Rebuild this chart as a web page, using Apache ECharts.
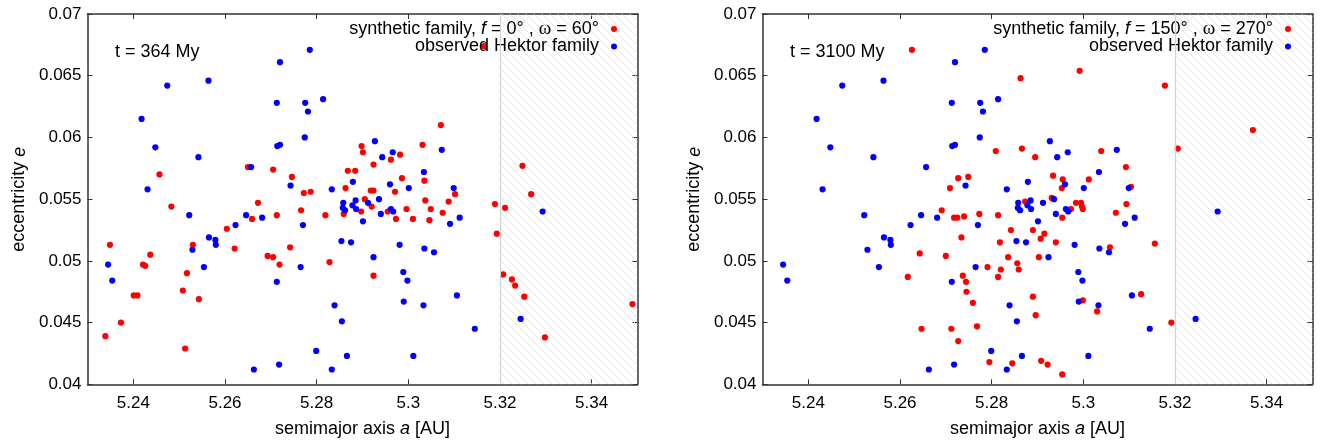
<!DOCTYPE html>
<html>
<head>
<meta charset="utf-8">
<script src="https://cdn.jsdelivr.net/npm/echarts@6/dist/echarts.min.js"></script>
<style>html,body{margin:0;padding:0;background:#fff}#c{width:1320px;height:445px}</style>
</head>
<body>
<div id="c"></div>
<script>
// ---- data ----
const xTicks = [5.24, 5.26, 5.28, 5.30, 5.32, 5.34];
const yTicks = [0.04, 0.045, 0.05, 0.055, 0.06, 0.065, 0.07];
const panelTimes = ['t = 364 My', 't = 3100 My'];
const panelF = ['0°', '150°'];
const panelOmega = ['60°', '270°'];
const observedName = 'observed Hektor family';

const observedA = [5.2785,5.2720,5.2564,5.2474,5.2814,5.2713,5.2775,5.2781,5.2418,5.2774,5.2714,5.2720,5.2927,5.3073,5.2448,5.2966,5.2943,5.2542,5.2657,5.3034,5.2879,5.2743,5.2960,5.2431,5.2833,5.3001,5.3099,5.2936,5.2858,5.2885,5.2912,5.2857,5.2862,5.2878,5.2886,5.2962,5.2967,5.2940,5.3293,5.2522,5.2646,5.2681,5.3112,5.2901,5.2770,5.2623,5.3091,5.2565,5.2579,5.2580,5.2854,5.2875,5.2981,5.3035,5.2529,5.3056,5.2924,5.2345,5.2554,5.2765,5.2989,5.2354,5.2713,5.2998,5.3106,5.2990,5.2839,5.3033,5.3245,5.2855,5.3145,5.2799,5.2866,5.3011,5.2718,5.2663,5.2833];
const observedE = [0.0671,0.0661,0.0646,0.0642,0.0631,0.0628,0.0628,0.0621,0.0615,0.0600,0.0593,0.0594,0.0597,0.0590,0.0592,0.0588,0.0584,0.0584,0.0576,0.0572,0.0564,0.0561,0.0562,0.0558,0.0558,0.0559,0.0559,0.0550,0.0547,0.0549,0.0547,0.0543,0.0541,0.0545,0.0542,0.0542,0.0540,0.0538,0.0540,0.0537,0.0537,0.0535,0.0535,0.0532,0.0529,0.0529,0.0530,0.0519,0.0517,0.0513,0.0516,0.0515,0.0513,0.0510,0.0509,0.0507,0.0503,0.0497,0.0495,0.0495,0.0491,0.0484,0.0483,0.0484,0.0472,0.0467,0.0464,0.0464,0.0453,0.0451,0.0445,0.0427,0.0423,0.0423,0.0416,0.0412,0.0412];

const synthLeftA = [5.3165,5.3071,5.3031,5.2898,5.2901,5.2982,5.2962,5.2924,5.3249,5.2705,5.2650,5.2868,5.2884,5.2457,5.2746,5.2986,5.3035,5.2863,5.2772,5.2787,5.2918,5.2924,5.2971,5.3102,5.3268,5.2672,5.2905,5.3037,5.3088,5.3189,5.2920,5.2483,5.2766,5.2996,5.3049,5.3211,5.2713,5.2819,5.2859,5.2897,5.2955,5.3075,5.2659,5.2973,5.3010,5.3046,5.2604,5.3193,5.2349,5.2530,5.2621,5.2742,5.2437,5.2693,5.2705,5.2421,5.2426,5.2719,5.2828,5.2517,5.2924,5.3207,5.3226,5.3233,5.2508,5.2401,5.2409,5.3253,5.2543,5.3489,5.2373,5.2339,5.3298,5.2513];
const synthLeftE = [0.0674,0.0610,0.0594,0.0593,0.0588,0.0586,0.0582,0.0578,0.0577,0.0574,0.0576,0.0573,0.0573,0.0570,0.0568,0.0567,0.0565,0.0559,0.0555,0.0556,0.0557,0.0557,0.0556,0.0554,0.0554,0.0547,0.0550,0.0549,0.0548,0.0546,0.0544,0.0544,0.0541,0.0542,0.0542,0.0543,0.0537,0.0537,0.0538,0.0540,0.0540,0.0539,0.0534,0.0534,0.0534,0.0533,0.0526,0.0522,0.0513,0.0513,0.0510,0.0511,0.0505,0.0504,0.0503,0.0497,0.0496,0.0497,0.0499,0.0490,0.0488,0.0489,0.0485,0.0480,0.0476,0.0472,0.0472,0.0471,0.0469,0.0465,0.0450,0.0439,0.0438,0.0429];

const synthRightA = [5.2626,5.2992,5.2863,5.3178,5.3370,5.3206,5.2809,5.2866,5.3039,5.2895,5.3093,5.2727,5.2749,5.2709,5.2934,5.2955,5.2953,5.3012,5.3104,5.2873,5.2931,5.2984,5.2995,5.2973,5.2997,5.2999,5.3094,5.2691,5.2718,5.2725,5.2740,5.2773,5.2814,5.2954,5.3071,5.2842,5.2890,5.2915,5.2907,5.2734,5.2818,5.2940,5.3058,5.3156,5.2643,5.2700,5.2836,5.2903,5.2791,5.2820,5.2856,5.2859,5.2617,5.2737,5.2744,5.2814,5.2745,5.2759,5.2890,5.3126,5.2999,5.2896,5.3030,5.2647,5.2712,5.2768,5.2727,5.3192,5.2795,5.2845,5.2908,5.2922,5.2954];
const synthRightE = [0.0671,0.0654,0.0648,0.0642,0.0606,0.0591,0.0589,0.0591,0.0589,0.0584,0.0576,0.0567,0.0568,0.0559,0.0569,0.0566,0.0559,0.0566,0.0560,0.0548,0.0551,0.0547,0.0547,0.0542,0.0544,0.0542,0.0546,0.0541,0.0535,0.0535,0.0536,0.0538,0.0537,0.0535,0.0539,0.0525,0.0525,0.0522,0.0518,0.0519,0.0515,0.0515,0.0511,0.0514,0.0506,0.0504,0.0503,0.0503,0.0495,0.0493,0.0498,0.0493,0.0487,0.0488,0.0483,0.0487,0.0475,0.0466,0.0471,0.0473,0.0468,0.0456,0.0459,0.0445,0.0445,0.0447,0.0435,0.0450,0.0418,0.0417,0.0419,0.0416,0.0408];

const xMin = 5.23, xMax = 5.35, yMin = 0.04, yMax = 0.07;
const hatchStart = 5.32;

// ---- build ----
const FONT = 'Liberation Sans, Arial, sans-serif';
const AX = '#333';
function zip(a, b) { return a.map((v, i) => [v, b[i]]); }
function hatchCanvas() {
  const c = document.createElement('canvas');
  c.width = 8; c.height = 8;
  const g = c.getContext('2d');
  g.strokeStyle = '#e0e0e0'; g.lineWidth = 0.8;
  g.beginPath(); g.moveTo(-1, -1); g.lineTo(9, 9); g.stroke();
  return c;
}
const pattern = { image: hatchCanvas(), repeat: 'repeat' };
const synthNames = [0, 1].map(i => 'synthetic family, f = ' + panelF[i] + ' , ω = ' + panelOmega[i]);

const grids = [
  { left: 87.5, top: 14, width: 550, height: 370.3 },
  { left: 762.5, top: 14, width: 550, height: 370.3 }
];
const xAxes = [], yAxes = [];
[0, 1].forEach(g => {
  const base = {
    type: 'value', gridIndex: g, min: xMin, max: xMax,
    splitLine: { show: false },
    axisLine: { show: true, onZero: false, lineStyle: { color: AX, width: 1.5 } },
    axisTick: { show: true, inside: true, length: 5, customValues: xTicks, lineStyle: { color: AX } }
  };
  xAxes.push(Object.assign({}, base, {
    position: 'bottom',
    axisLabel: { show: true, customValues: xTicks, margin: 11, fontSize: 17, fontFamily: FONT, color: '#000' },
    name: '{n|semimajor axis }{i|a}{n| [AU]}', nameLocation: 'middle', nameGap: 36,
    nameTextStyle: { rich: { n: { fontSize: 18, fontFamily: FONT, color: '#000' }, i: { fontSize: 18, fontFamily: FONT, fontStyle: 'italic', color: '#000' } } }
  }));
  xAxes.push(Object.assign({}, base, { position: 'top', axisLabel: { show: false } }));
  const ybase = {
    type: 'value', gridIndex: g, min: yMin, max: yMax, interval: 0.005,
    splitLine: { show: false },
    axisLine: { show: true, onZero: false, lineStyle: { color: AX, width: 1.5 } },
    axisTick: { show: true, inside: true, length: 5, lineStyle: { color: AX } }
  };
  yAxes.push(Object.assign({}, ybase, {
    position: 'left',
    axisLabel: { show: true, margin: 6, fontSize: 17, fontFamily: FONT, color: '#000' },
    name: '{n|eccentricity }{i|e}', nameLocation: 'middle', nameGap: 59,
    nameTextStyle: { rich: { n: { fontSize: 18, fontFamily: FONT, color: '#000' }, i: { fontSize: 18, fontFamily: FONT, fontStyle: 'italic', color: '#000' } } }
  }));
  yAxes.push(Object.assign({}, ybase, { position: 'right', axisLabel: { show: false } }));
});

const series = [];
const synthData = [zip(synthLeftA, synthLeftE), zip(synthRightA, synthRightE)];
[0, 1].forEach(g => {
  series.push({
    name: synthNames[g], type: 'scatter', xAxisIndex: g * 2, yAxisIndex: g * 2,
    symbol: 'circle', symbolSize: 6.2, itemStyle: { color: '#ff0000', opacity: 1 },
    data: synthData[g], z: 3,
    markArea: { silent: true, itemStyle: { color: pattern, borderWidth: 0 }, data: [[{ xAxis: hatchStart }, { xAxis: xMax }]] },
    markLine: { silent: true, symbol: 'none', label: { show: false }, animation: false,
      lineStyle: { color: '#d2d2d2', type: 'solid', width: 1.2 }, data: [{ xAxis: hatchStart }] }
  });
  series.push({
    name: observedName, type: 'scatter', xAxisIndex: g * 2, yAxisIndex: g * 2,
    symbol: 'circle', symbolSize: 6.2, itemStyle: { color: '#0000ff', opacity: 1 },
    data: zip(observedA, observedE), z: 4
  });
});

function legendFmt(name) {
  if (name === observedName) return '{n|' + name + '}';
  const i = synthNames.indexOf(name);
  return '{n|synthetic family, }{i|f}{n| = ' + panelF[i] + ' , }{w|ω}{n| = ' + panelOmega[i] + '}';
}
const legendText = {
  color: '#000', fontSize: 18, fontFamily: FONT, padding: [0, 7, 0, 0],
  rich: {
    n: { fontSize: 18, fontFamily: FONT, color: '#000' },
    i: { fontSize: 18, fontFamily: FONT, fontStyle: 'italic', color: '#000' },
    w: { fontSize: 19, fontFamily: 'Liberation Serif, DejaVu Serif, serif', color: '#000' }
  }
};
const legendRights = [703, 29];
const legends = [];
[0, 1].forEach(g => {
  [[synthNames[g], 19.5], [observedName, 37.5]].forEach(([nm, top]) => {
    legends.push({
      data: [nm], right: legendRights[g], top: top, padding: 0, align: 'right', orient: 'vertical',
      itemWidth: 6, itemHeight: 6, icon: 'circle', selectedMode: false,
      formatter: legendFmt, textStyle: legendText
    });
  });
});

const chart = echarts.init(document.getElementById('c'), null, { renderer: 'canvas' });
chart.setOption({
  animation: false,
  backgroundColor: '#fff',
  grid: grids,
  xAxis: xAxes,
  yAxis: yAxes,
  legend: legends,
  series: series,
  graphic: [0, 1].map(g => ({
    type: 'text', left: g === 0 ? 115 : 790, top: 43,
    style: { text: panelTimes[g], fontSize: 18, fontFamily: FONT, fill: '#000' }
  }))
});
</script>
</body>
</html>
